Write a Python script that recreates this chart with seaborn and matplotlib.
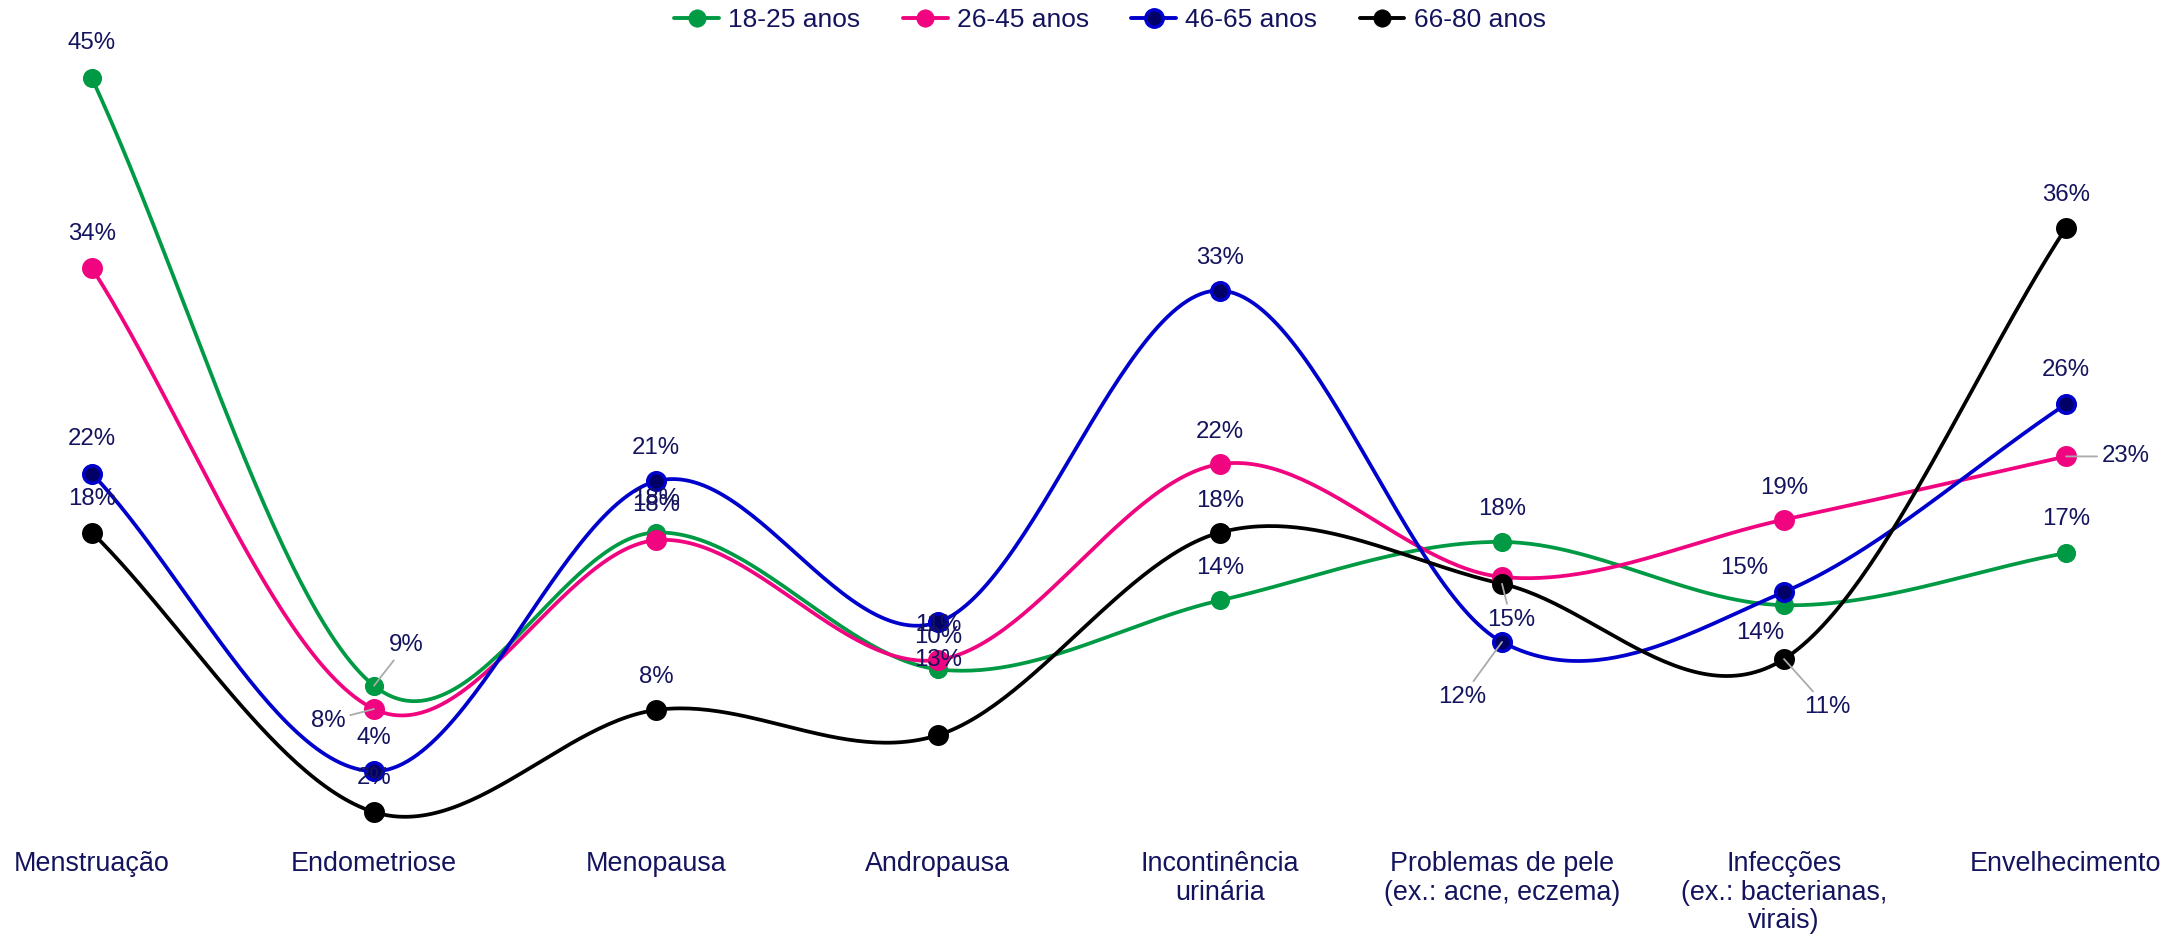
import numpy as np
import pandas as pd
import matplotlib
matplotlib.use("Agg")
import matplotlib.pyplot as plt
from matplotlib.lines import Line2D
import seaborn as sns

# ---------------- data ----------------
categories = ["Menstruação", "Endometriose", "Menopausa", "Andropausa",
              "Incontinência\nurinária", "Problemas de pele\n(ex.: acne, eczema)",
              "Infecções\n(ex.: bacterianas,\nvirais)", "Envelhecimento"]
series_names = ["18-25 anos", "26-45 anos", "46-65 anos", "66-80 anos"]
vals_18_25 = [45.0, 9.49, 18.45, 10.45, 14.48, 17.9, 14.2, 17.25]
vals_26_45 = [33.9, 8.13, 18.0, 11.0, 22.45, 15.85, 19.2, 22.9]
vals_46_65 = [21.9, 4.49, 21.45, 13.2, 32.6, 12.05, 14.97, 25.96]
vals_66_80 = [18.45, 2.1, 8.07, 6.6, 18.45, 15.45, 11.05, 36.26]
all_vals = [vals_18_25, vals_26_45, vals_46_65, vals_66_80]

# ---------------- styles ----------------
line_colors = ["#009a44", "#f0047f", "#0000cc", "#000000"]
face_colors = ["#009a44", "#f0047f", "#000066", "#000000"]
edge_widths = [0, 0, 2.5, 0]
marker_s = [190, 228, 160, 228]
text_color = "#14145e"
leader_color = "#aaaaaa"

# label offsets in pixels (dx, dy up), None = hidden, flag = leader line
label_style = [
    [(0, 35, 0), (32, 41, 1), (0, 34, 0), (0, 32, 0), (0, 32, 0), (0, 33, 0), (-24, -28, 0), (0, 34, 0)],
    [(0, 34, 0), (-46, -12, 1), (0, 35, 0), (0, 35, 0), (0, 32, 0), None, (0, 32, 0), (60, 0, 1)],
    [(0, 35, 0), (0, 33, 0), (0, 33, 0), (0, -38, 0), (0, 33, 0), (-40, -55, 1), (-40, 24, 0), (0, 34, 0)],
    [(0, 34, 0), (0, 34, 0), (0, 33, 0), None, (0, 32, 0), (9, -36, 1), (43, -48, 1), (0, 33, 0)],
]

sns.set_theme(style="white")
plt.rcParams["font.family"] = ["Liberation Sans", "DejaVu Sans"]

W, H = 2183, 944
fig = plt.figure(figsize=(W / 100, H / 100), dpi=100)
ax = fig.add_axes([0, 104 / H, 1, 800 / H])
ax.set_xlim(-92 / 282, 7 + 117 / 282)
ax.set_ylim((848 - 840) / 17.1, (848 - 40) / 17.1)

xs = np.arange(len(categories), dtype=float)


def smooth_curve(x, y, n=60):
    """Catmull-Rom spline computed in screen space."""
    pts = ax.transData.transform(np.column_stack([x, y]))
    N = len(pts)
    tang = np.zeros_like(pts)
    for i in range(N):
        if i == 0:
            tang[i] = pts[1] - pts[0]
        elif i == N - 1:
            tang[i] = pts[-1] - pts[-2]
        else:
            tang[i] = (pts[i + 1] - pts[i - 1]) / 2
    out = []
    t = np.linspace(0, 1, n)[:, None]
    for i in range(N - 1):
        P0, P3 = pts[i], pts[i + 1]
        P1 = P0 + tang[i] / 3
        P2 = P3 - tang[i + 1] / 3
        seg = ((1 - t) ** 3) * P0 + 3 * ((1 - t) ** 2) * t * P1 + 3 * (1 - t) * t ** 2 * P2 + t ** 3 * P3
        out.append(seg if i == 0 else seg[1:])
    out = np.vstack(out)
    return ax.transData.inverted().transform(out)


frames = []
for name, vals in zip(series_names, all_vals):
    c = smooth_curve(xs, np.array(vals))
    frames.append(pd.DataFrame({"x": c[:, 0], "y": c[:, 1], "serie": name}))
curve_df = pd.concat(frames, ignore_index=True)

palette = dict(zip(series_names, line_colors))
sns.lineplot(data=curve_df, x="x", y="y", hue="serie", palette=palette,
             sort=False, estimator=None, legend=False, linewidth=2.7, ax=ax, zorder=2)

for k, (name, vals) in enumerate(zip(series_names, all_vals)):
    pts_df = pd.DataFrame({"x": xs, "y": vals})
    sns.scatterplot(data=pts_df, x="x", y="y", color=face_colors[k],
                    edgecolor=line_colors[k], linewidth=edge_widths[k],
                    s=marker_s[k], ax=ax, zorder=3 + k * 0.1, legend=False)

# value labels
for k, vals in enumerate(all_vals):
    for i, v in enumerate(vals):
        st = label_style[k][i]
        if st is None:
            continue
        dx, dy, lead = st
        kw = dict(xy=(xs[i], v), xytext=(dx, dy), textcoords="offset pixels",
                  ha="center", va="center", fontsize=17.3, color=text_color, zorder=6)
        if lead:
            kw["arrowprops"] = dict(arrowstyle="-", color=leader_color, lw=1.3,
                                    shrinkA=1, shrinkB=0)
            kw["bbox"] = dict(boxstyle="square,pad=0.15", fc="none", ec="none")
        ax.annotate(f"{v:.0f}%", **kw)

ax.set_xticks(xs)
ax.set_xticklabels(categories, fontsize=19.4, color=text_color, linespacing=1.12)
ax.set_yticks([])
ax.tick_params(axis="x", length=0, pad=8)
ax.set_xlabel("")
ax.set_ylabel("")
for sp in ax.spines.values():
    sp.set_visible(False)

handles = [Line2D([0], [0], color=line_colors[k], lw=2.8, marker="o", markersize=12.5,
                  markerfacecolor=face_colors[k], markeredgecolor=line_colors[k],
                  markeredgewidth=max(edge_widths[k], 0.5))
           for k in range(4)]
leg = fig.legend(handles, series_names, loc="center", bbox_to_anchor=(1110 / W, 1 - 20 / H),
                 ncol=4, frameon=False, fontsize=19, handlelength=1.7,
                 handletextpad=0.35, columnspacing=1.6, borderaxespad=0)
for t in leg.get_texts():
    t.set_color(text_color)

fig.savefig("out.png", dpi=100, facecolor="white")
